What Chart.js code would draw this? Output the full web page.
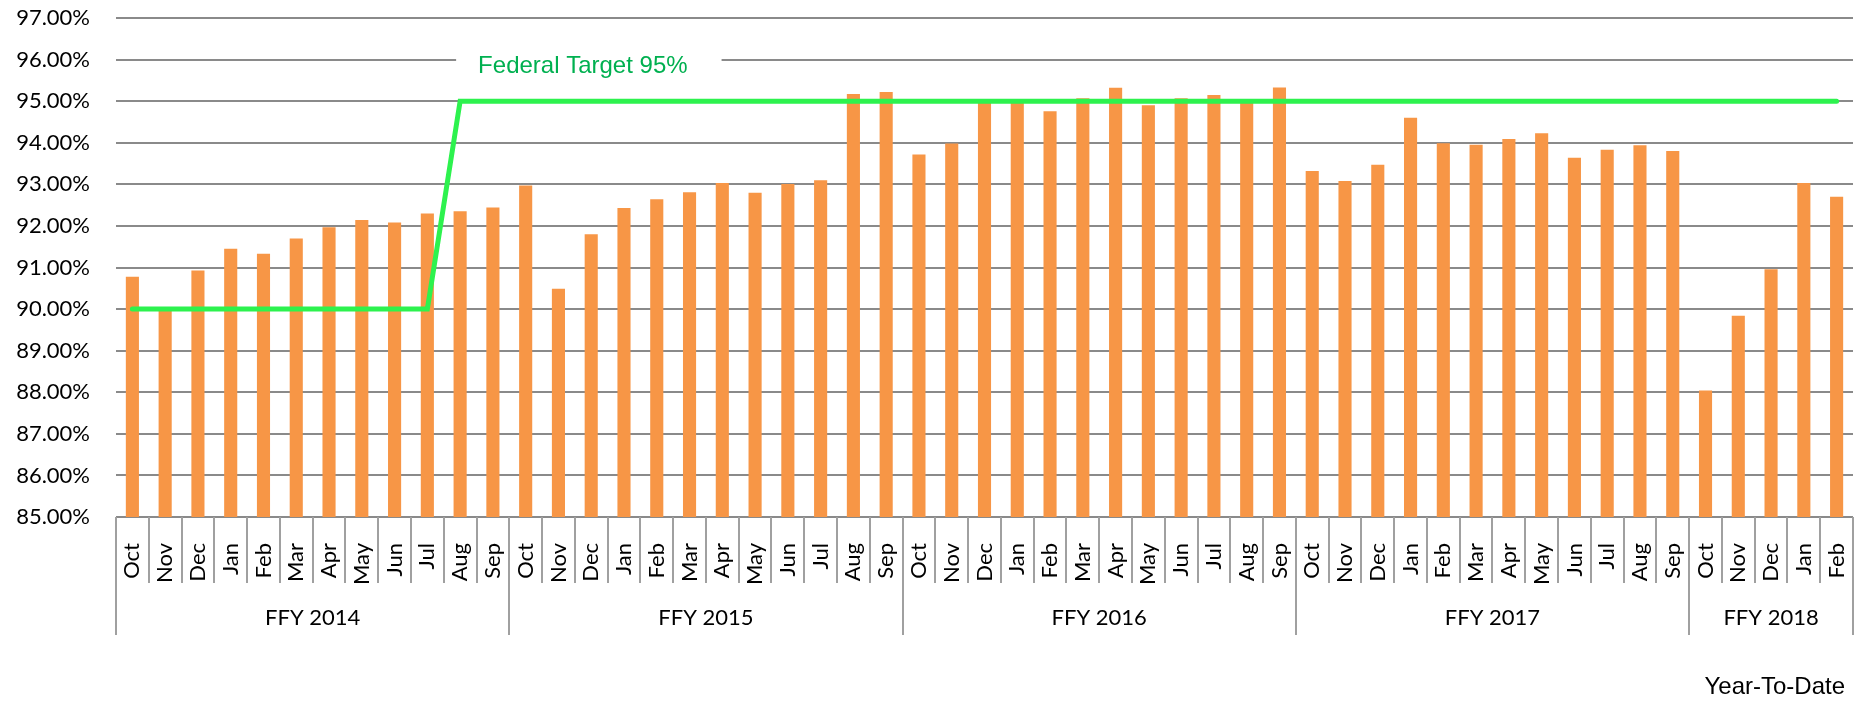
<!DOCTYPE html>
<html>
<head>
<meta charset="utf-8">
<script src="https://cdn.jsdelivr.net/npm/chart.js@4/dist/chart.umd.min.js"></script>
<style>
  body { margin: 0; background: #fff; }
  #wrap { width: 1866px; height: 701px; position: relative; }
</style>
</head>
<body>
<div id="wrap"><canvas id="chart01"></canvas></div>
<script>
// データ
var months = ["Oct", "Nov", "Dec", "Jan", "Feb", "Mar", "Apr", "May", "Jun", "Jul", "Aug", "Sep"];
var groups = ["FFY 2014", "FFY 2015", "FFY 2016", "FFY 2017", "FFY 2018"];
var groupSizes = [12, 12, 12, 12, 5];

var ffy2014 = [90.78, 90.00, 90.93, 91.45, 91.33, 91.70, 91.97, 92.14, 92.08, 92.30, 92.35, 92.44];
var ffy2015 = [92.97, 90.49, 91.80, 92.43, 92.64, 92.81, 93.03, 92.80, 93.01, 93.10, 95.17, 95.22];
var ffy2016 = [93.72, 93.98, 94.96, 94.98, 94.76, 95.07, 95.32, 94.90, 95.07, 95.15, 94.96, 95.33];
var ffy2017 = [93.32, 93.08, 93.47, 94.60, 93.99, 93.95, 94.09, 94.23, 93.64, 93.83, 93.94, 93.80];
var ffy2018 = [88.04, 89.84, 90.96, 93.03, 92.70];

// 目標値（FFY2014 Jul までは 90%、Aug から 95%）
var target2014 = [90, 90, 90, 90, 90, 90, 90, 90, 90, 90, 95, 95];
var targetAfter = 95;

var yMin = 85, yMax = 97, yStep = 1;
var targetLabel = "Federal Target 95%";
var xTitle = "Year-To-Date";

// ラベルと値をまとめる
var labels = [];
groupSizes.forEach(function (n) {
  for (var i = 0; i < n; i++) labels.push(months[i]);
});
var values = ffy2014.concat(ffy2015, ffy2016, ffy2017, ffy2018);
var target = target2014.slice();
while (target.length < values.length) target.push(targetAfter);

var gridColor = '#8a8a8a';
var sepColor = '#a0a0a0';

// 区切り線・年度ラベル・注記
var extraPlugin = {
  id: 'extra',
  afterDraw: function (chart) {
    var ctx = chart.ctx;
    var xs = chart.scales.x, ys = chart.scales.y;
    var n = labels.length;
    var cw = xs.width / n;
    var base = ys.bottom;
    ctx.save();
    ctx.strokeStyle = sepColor;
    ctx.lineWidth = 2;

    // 月の区切り
    var groupEdges = [0];
    var acc = 0;
    groupSizes.forEach(function (s) { acc += s; groupEdges.push(acc); });
    for (var k = 0; k <= n; k++) {
      var x = Math.round(xs.left + k * cw);
      var isGroup = groupEdges.indexOf(k) >= 0;
      ctx.beginPath();
      ctx.moveTo(x, base);
      ctx.lineTo(x, base + (isGroup ? 118 : 66));
      ctx.stroke();
    }

    // 年度ラベル
    ctx.fillStyle = '#000';
    ctx.font = '22px Lato';
    ctx.textAlign = 'center';
    ctx.textBaseline = 'middle';
    for (var g = 0; g < groups.length; g++) {
      var cx = xs.left + (groupEdges[g] + groupEdges[g + 1]) / 2 * cw;
      ctx.fillText(groups[g], cx, base + 101);
    }

    // Federal Target ラベル
    var tx = xs.getPixelForValue(10) + 18;
    var ty = ys.getPixelForValue(95.84);
    ctx.font = '24px "Liberation Sans"';
    var tw = ctx.measureText(targetLabel).width;
    ctx.fillStyle = '#fff';
    ctx.fillRect(tx - 22, ty - 18, tw + 56, 32);
    ctx.fillStyle = '#00B050';
    ctx.textAlign = 'left';
    ctx.fillText(targetLabel, tx, ty);

    // Year-To-Date
    ctx.fillStyle = '#000';
    ctx.textAlign = 'right';
    ctx.fillText(xTitle, xs.right - 8, base + 170);
    ctx.restore();
  }
};

var ctx = document.getElementById('chart01').getContext('2d');
var chart = new Chart(ctx, {
  type: 'bar',
  data: {
    labels: labels,
    datasets: [{
      type: 'line',
      label: targetLabel,
      data: target,
      borderColor: '#2DF24E',
      borderWidth: 5,
      pointRadius: 0,
      tension: 0,
      borderCapStyle: 'round',
      fill: false,
      order: 0
    }, {
      label: 'Year-To-Date',
      data: values,
      backgroundColor: '#F79646',
      barPercentage: 0.4,
      categoryPercentage: 1.0,
      order: 1
    }]
  },
  options: {
    responsive: true,
    maintainAspectRatio: false,
    animation: false,
    layout: { padding: { top: 18, right: 13, left: 0, bottom: 0 } },
    plugins: {
      legend: { display: false },
      tooltip: { enabled: false }
    },
    scales: {
      x: {
        grid: { display: false },
        border: { display: false },
        ticks: {
          autoSkip: false,
          maxRotation: 90,
          minRotation: 90,
          padding: 18,
          color: '#000',
          font: { family: 'Lato', size: 22 }
        },
        afterFit: function (scale) {
          scale.height = 184;
          scale.paddingLeft = 0;
          scale.paddingRight = 0;
        }
      },
      y: {
        min: yMin,
        max: yMax,
        border: { display: false },
        grid: { color: gridColor, lineWidth: 2, drawTicks: false },
        ticks: {
          stepSize: yStep,
          padding: 26,
          color: '#000',
          font: { family: 'Lato', size: 22 },
          callback: function (v) { return v.toFixed(2) + '%'; }
        },
        afterFit: function (scale) {
          scale.width = 116;
          scale.paddingTop = 0;
          scale.paddingBottom = 0;
        }
      }
    }
  },
  plugins: [extraPlugin]
});
</script>
</body>
</html>
